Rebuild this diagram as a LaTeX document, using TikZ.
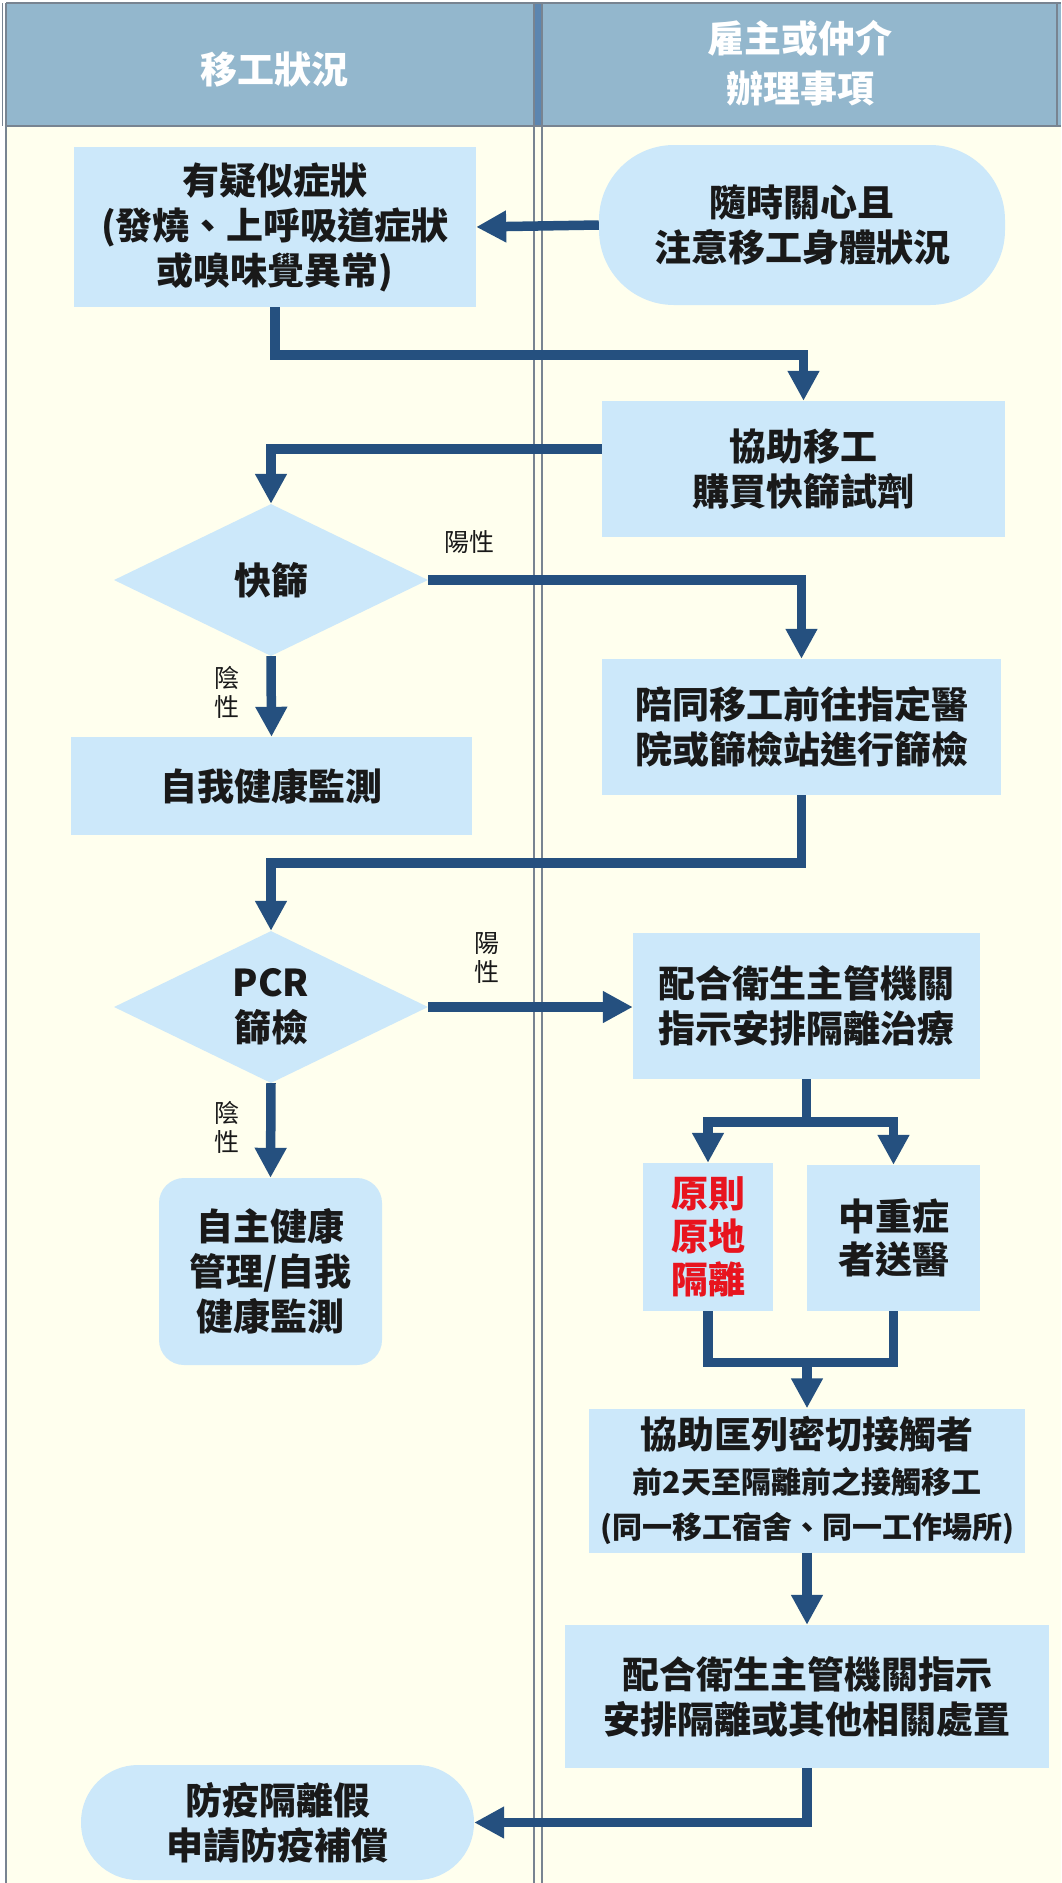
\documentclass[tikz,border=0pt]{standalone}
\usepackage{fontspec}
\setmainfont{Noto Sans CJK TC}
\usetikzlibrary{arrows.meta,shapes.geometric,calc}
\definecolor{hdr}{RGB}{147,183,205}
\definecolor{hdrdark}{RGB}{92,134,176}
\definecolor{bgc}{RGB}{255,255,238}
\definecolor{boxc}{RGB}{204,232,250}
\definecolor{arrc}{RGB}{37,80,127}
\definecolor{framec}{RGB}{120,132,145}
\definecolor{txt}{RGB}{25,25,25}
\definecolor{redt}{RGB}{232,20,30}
\begin{document}
\begin{tikzpicture}[x=1pt,y=-1pt,
  box/.style={fill=boxc, draw=none, inner sep=0pt, align=center, text=txt,
    font=\fontsize{37}{45}\selectfont\bfseries},
  diam/.style={box, diamond, minimum width=314pt, minimum height=152pt, aspect=2.07},
  arr/.style={draw=arrc, line width=9.5pt, line join=miter, -{Triangle[length=30pt,width=30pt]}},
  conn/.style={draw=arrc, line width=9.5pt, line join=miter},
  lab/.style={font=\fontsize{25}{29}\selectfont, text=txt, align=center, inner sep=0pt},
  htext/.style={font=\fontsize{37}{50}\selectfont\bfseries, text=white, align=center},
  frame/.style={draw=framec, line width=1.2pt}]
\useasboundingbox (0,0) rectangle (1061,1883);
% backgrounds
\fill[white] (0,0) rectangle (1061,1883);
\fill[bgc] (6,126) rectangle (1061,1883);
\fill[hdr] (6,3) rectangle (1061,126);
\fill[hdrdark] (534,3) rectangle (542,126);
% frame lines
\draw[frame] (6,3) -- (1061,3);
\draw[frame] (2.5,3) -- (2.5,126);
\draw[frame] (6,3) -- (6,1883);
\draw[frame] (1057,3) -- (1057,126);
\draw[draw=framec, line width=2pt] (6,126) -- (1061,126);
\draw[frame] (534,3) -- (534,1883);
\draw[frame] (542,3) -- (542,1883);
% header texts
\node[htext] (h1) at (274,70) {移工狀況};
\node[htext] (h2) at (800,63) {雇主或仲介\\辦理事項};
% nodes
\node[box, minimum width=402pt, minimum height=160pt] (b1) at (275,227) {有疑似症狀\\(發燒、上呼吸道症狀\\或嗅味覺異常)};
\node[box, minimum width=406pt, minimum height=160pt, rounded corners=75pt] (p1) at (802,225) {隨時關心且\\注意移工身體狀況};
\node[box, minimum width=403pt, minimum height=136pt] (b2) at (803.5,469) {協助移工\\購買快篩試劑};
\node[diam] (d1) at (271,580) {快篩};
\node[box, minimum width=401pt, minimum height=98pt] (b3) at (271.5,786) {自我健康監測};
\node[box, minimum width=399pt, minimum height=136pt] (b4) at (801.5,727) {陪同移工前往指定醫\\院或篩檢站進行篩檢};
\node[diam] (d2) at (271,1007) {PCR\\篩檢};
\node[box, minimum width=347pt, minimum height=146pt] (b5) at (806.5,1006) {配合衛生主管機關\\指示安排隔離治療};
\node[box, minimum width=223pt, minimum height=187pt, rounded corners=25pt] (b6) at (270.5,1271.5) {自主健康\\管理/自我\\健康監測};
\node[box, minimum width=130pt, minimum height=148pt, text=redt, font=\fontsize{37}{43}\selectfont\bfseries] (b7) at (708,1237) {原則\\原地\\隔離};
\node[box, minimum width=173pt, minimum height=146pt, font=\fontsize{37}{43}\selectfont\bfseries] (b8) at (893.5,1238) {中重症\\者送醫};
\node[box, minimum width=436pt, minimum height=144pt] (b9) at (807,1480.5) {{\fontsize{37}{41}\selectfont 協助匡列密切接觸者}\\{\fontsize{30}{35}\selectfont 前2天至隔離前之接觸移工}\\{\fontsize{30}{35}\selectfont (同一移工宿舍、同一工作場所)}};
\node[box, minimum width=484pt, minimum height=143pt] (b10) at (807,1696.5) {配合衛生主管機關指示\\安排隔離或其他相關處置};
\node[box, minimum width=393pt, minimum height=115pt, rounded corners=57pt] (p2) at (277.5,1822.5) {防疫隔離假\\申請防疫補償};
% labels
\node[lab] (l1) at (469,542) {陽性};
\node[lab] (l2) at (227,692) {陰\\性};
\node[lab] (l3) at (487,958) {陽\\性};
\node[lab] (l4) at (227,1127) {陰\\性};
% connectors
\draw[arr] (p1.west) -- (b1.east);
\draw[arr] (b1.south) -- ++(0,48) -| (b2.north);
\draw[arr] ([yshift=20pt]b2.west) -| (d1.north);
\draw[arr] (d1.east) -| (b4.north);
\draw[arr] (d1.south) -- (b3.north);
\draw[arr] (b4.south) -- ++(0,68) -| (d2.north);
\draw[arr] (d2.east) -- (d2.east -| b5.west);
\draw[arr] (d2.south) -- (b6.north);
\draw[arr] (b5.south) -- ++(0,43) -| (b7.north);
\draw[arr] (b5.south) -- ++(0,43) -| (b8.north);
\coordinate (j) at ([yshift=46pt]b9.north);
\draw[conn] (b7.south) |- (j) -| (b8.south);
\draw[arr] (j) -- (b9.north);
\draw[arr] (b9.south) -- (b10.north);
\draw[arr] (b10.south) |- (p2.east);
\end{tikzpicture}
\end{document}
